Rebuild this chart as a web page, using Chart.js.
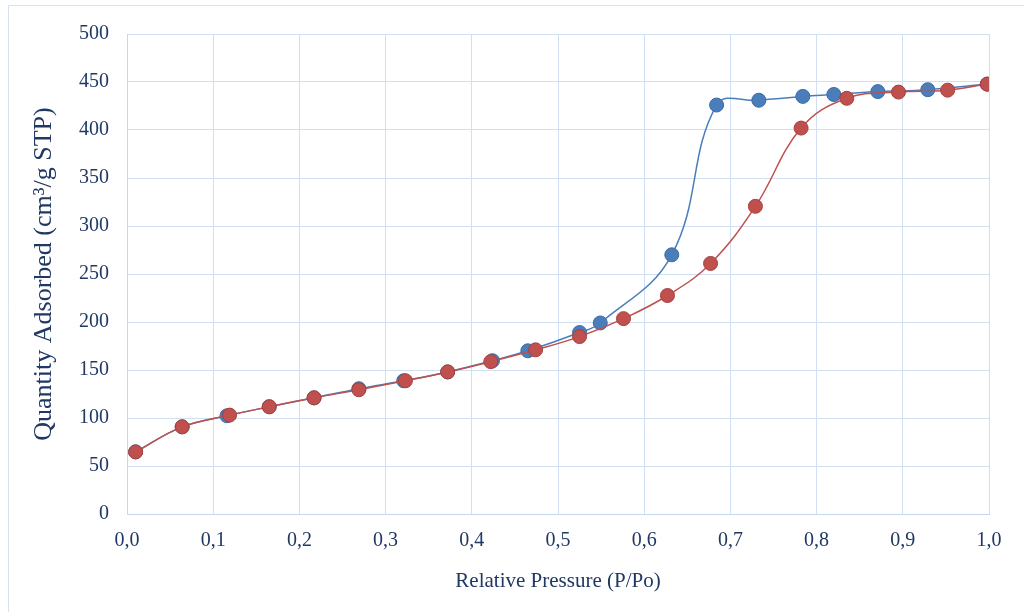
<!DOCTYPE html>
<html>
<head>
<meta charset="utf-8">
<script src="https://cdn.jsdelivr.net/npm/chart.js@4"></script>
<style>
  html, body { margin: 0; padding: 0; background: #fff; }
  #wrap { width: 1024px; height: 612px; position: relative; }
</style>
</head>
<body>
<div id="wrap"><canvas id="isotherm" width="1024" height="612"></canvas></div>
<script>
// adsorption branch (blue)
const adsP = [0.010, 0.064, 0.116, 0.165, 0.217, 0.269, 0.321, 0.372, 0.424, 0.465, 0.525, 0.549, 0.632, 0.684, 0.733, 0.784, 0.820, 0.871, 0.929, 0.998];
const adsQ = [64.7, 90.8, 102.3, 111.7, 121.0, 130.5, 138.8, 148.0, 159.7, 170.0, 189.0, 199.0, 270.0, 426.0, 431.0, 435.0, 437.0, 440.0, 442.0, 447.8];

// desorption branch (red)
const desP = [0.010, 0.064, 0.119, 0.165, 0.217, 0.269, 0.323, 0.372, 0.422, 0.474, 0.525, 0.576, 0.627, 0.677, 0.729, 0.782, 0.835, 0.895, 0.952, 0.998];
const desQ = [64.7, 90.8, 103.0, 111.7, 121.0, 129.4, 138.8, 148.0, 158.7, 171.0, 184.8, 203.5, 227.6, 261.0, 320.5, 402.0, 433.0, 439.5, 441.5, 447.8];

const textColor = '#1f3864';
const gridColor = '#d0dff2';
const serif = "'Liberation Serif', 'Times New Roman', serif";

function toPoints(xs, ys) {
    return xs.map((x, i) => ({ x: x, y: ys[i] }));
}

// thin outer frame like the Excel chart area
const frame = {
    id: 'frame',
    beforeDraw(chart) {
        const ctx = chart.ctx;
        ctx.save();
        ctx.strokeStyle = '#d6e2f0';
        ctx.lineWidth = 1;
        ctx.beginPath();
        ctx.moveTo(8.5, 612);
        ctx.lineTo(8.5, 5.5);
        ctx.lineTo(1024, 5.5);
        ctx.stroke();
        ctx.restore();
    }
};

new Chart(document.getElementById('isotherm'), {
    type: 'line',
    data: {
        datasets: [{
            label: 'Desorption',
            data: toPoints(desP, desQ),
            borderColor: '#c0504d',
            backgroundColor: '#c0504d',
            pointBorderColor: '#a5403d',
            borderWidth: 1.5,
            pointRadius: 7,
            pointBorderWidth: 1,
            tension: 0.4,
            order: 0
        }, {
            label: 'Adsorption',
            data: toPoints(adsP, adsQ),
            borderColor: '#4a7ebb',
            backgroundColor: '#4a7ebb',
            pointBorderColor: '#3c6aa3',
            borderWidth: 1.5,
            pointRadius: 7,
            pointBorderWidth: 1,
            tension: 0.4,
            order: 1
        }]
    },
    options: {
        responsive: false,
        animation: false,
        layout: { padding: { top: 34, right: 35, left: 0, bottom: 0 } },
        plugins: {
            legend: { display: false },
            tooltip: { enabled: false }
        },
        scales: {
            x: {
                type: 'linear',
                min: 0,
                max: 1,
                afterFit: s => { s.height = 98; },
                grid: { color: gridColor, drawTicks: false },
                border: { color: '#c5d7ee' },
                ticks: {
                    stepSize: 0.1,
                    padding: 15,
                    color: textColor,
                    font: { family: serif, size: 20 },
                    callback: v => v.toFixed(1).replace('.', ',')
                },
                title: {
                    display: true,
                    text: 'Relative Pressure (P/Po)',
                    color: textColor,
                    font: { family: serif, size: 21 },
                    padding: { top: 0, bottom: 18 }
                }
            },
            y: {
                min: 0,
                max: 500,
                afterFit: s => { s.width = 127; },
                grid: { color: gridColor, drawTicks: false },
                border: { color: '#c5d7ee' },
                ticks: {
                    stepSize: 50,
                    padding: 18,
                    color: textColor,
                    font: { family: serif, size: 20 }
                },
                title: {
                    display: true,
                    text: 'Quantity Adsorbed (cm³/g STP)',
                    color: textColor,
                    font: { family: serif, size: 26 },
                    padding: { top: 29, bottom: 0 }
                }
            }
        }
    },
    plugins: [frame]
});
</script>
</body>
</html>
